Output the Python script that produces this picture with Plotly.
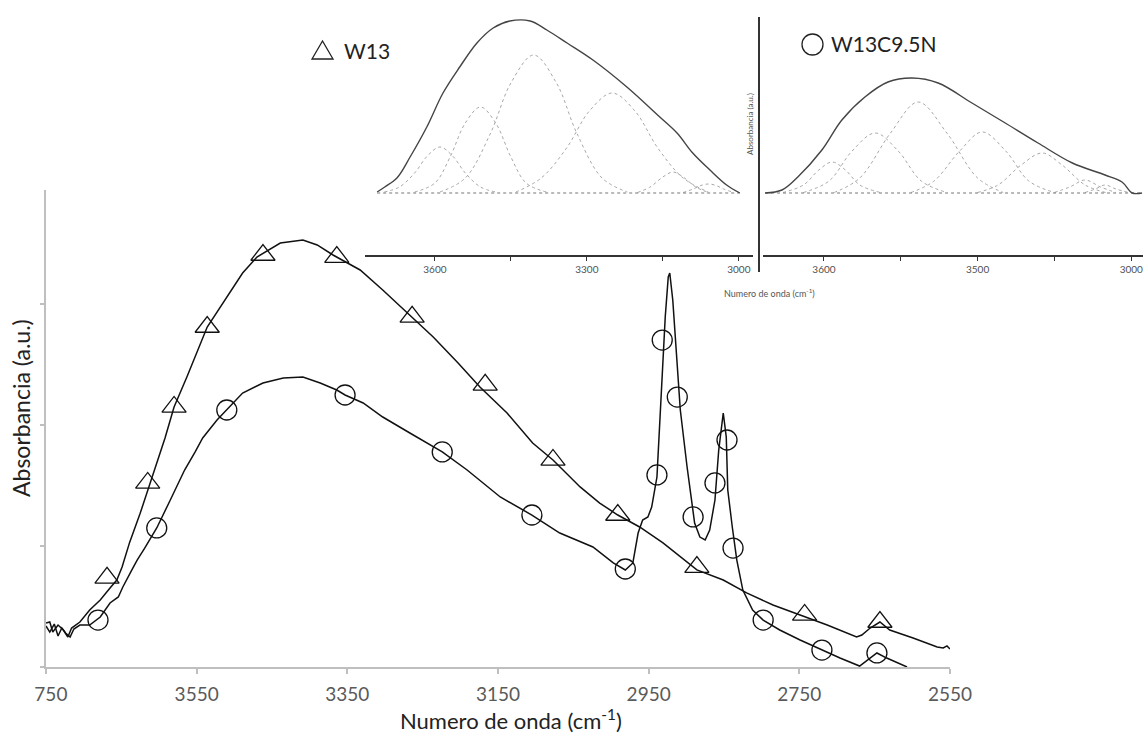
import plotly.graph_objects as go

W, H = 1143, 737

# ---------------- main spectra (wavenumber cm-1, absorbance a.u.) ----------------
w13_wn = [3750, 3745, 3741, 3734, 3727, 3721, 3716, 3705, 3692, 3678, 3665, 3656, 3649,
          3639, 3625, 3612, 3601, 3592, 3580, 3563, 3536, 3510, 3489, 3470, 3439, 3409,
          3390, 3369, 3333, 3303, 3264, 3236, 3203, 3174, 3138, 3104, 3077, 3041, 3015,
          2991, 2962, 2931, 2886, 2851, 2820, 2785, 2749, 2713, 2674, 2667, 2656, 2643,
          2630, 2599, 2567, 2559, 2554, 2550]
w13_abs = [0.364, 0.372, 0.289, 0.347, 0.306, 0.248, 0.322, 0.372, 0.471, 0.554, 0.653,
           0.719, 0.826, 1.03, 1.27, 1.52, 1.72, 1.893, 2.149, 2.397, 2.810, 3.058, 3.256,
           3.388, 3.504, 3.529, 3.488, 3.405, 3.281, 3.116, 2.893, 2.727, 2.512, 2.314,
           2.099, 1.851, 1.711, 1.488, 1.355, 1.256, 1.157, 1.025, 0.802, 0.719, 0.612,
           0.512, 0.430, 0.347, 0.248, 0.264, 0.322, 0.372, 0.306, 0.240, 0.165, 0.157,
           0.174, 0.149]

w13c_wn = [3750, 3745, 3739, 3734, 3729, 3724, 3718, 3713, 3705, 3692, 3678, 3665, 3654,
           3648, 3636, 3629, 3619, 3603, 3585, 3566, 3552, 3542, 3523, 3510, 3489, 3462,
           3435, 3409, 3386, 3364, 3353, 3329, 3303, 3267, 3224, 3191, 3147, 3105, 3068,
           3024, 2997, 2981, 2971, 2964, 2958, 2951, 2946, 2939, 2932, 2928, 2924, 2922,
           2918, 2912, 2908, 2899, 2889, 2882, 2875, 2869, 2862, 2857, 2851, 2847, 2845,
           2839, 2833, 2825, 2812, 2798, 2776, 2749, 2720, 2696, 2670, 2660, 2652, 2647,
           2634, 2620, 2607]
w13c_abs = [0.339, 0.289, 0.355, 0.256, 0.322, 0.281, 0.248, 0.314, 0.347, 0.347, 0.413,
            0.529, 0.579, 0.661, 0.802, 0.884, 0.983, 1.149, 1.380, 1.628, 1.777, 1.893,
            2.041, 2.124, 2.264, 2.347, 2.388, 2.397, 2.347, 2.289, 2.248, 2.182, 2.066,
            1.934, 1.777, 1.628, 1.405, 1.256, 1.107, 0.992, 0.860, 0.802, 0.860, 1.107,
            1.215, 1.240, 1.322, 1.570, 2.347, 2.893, 3.223, 3.256, 3.033, 2.479, 2.124,
            1.653, 1.190, 1.074, 1.050, 1.132, 1.380, 1.793, 2.099, 1.901, 1.463, 1.157,
            0.884, 0.636, 0.471, 0.388, 0.306, 0.223, 0.140, 0.074, 0.008, 0.058, 0.091,
            0.116, 0.074, 0.033, 0.000]

# marker positions
w13_mk_wn = [3669, 3615, 3580, 3536, 3462, 3364, 3264, 3167, 3077, 2991, 2886, 2743, 2643]
w13_mk_abs = [0.736, 1.521, 2.149, 2.810, 3.405, 3.388, 2.893, 2.331, 1.711, 1.256, 0.826,
              0.430, 0.372]
w13c_mk_wn = [3681, 3603, 3510, 3353, 3224, 3105, 2981, 2939, 2932, 2912, 2891, 2862, 2846,
              2838, 2798, 2720, 2647]
w13c_mk_abs = [0.388, 1.149, 2.124, 2.248, 1.777, 1.256, 0.810, 1.587, 2.702, 2.231, 1.240,
               1.521, 1.876, 0.983, 0.388, 0.140, 0.116]

main_ticks = [3750, 3550, 3350, 3150, 2950, 2750, 2550]
main_ticktext = ["\u00a0\u00a0750", "3550", "3350", "3150", "2950", "2750", "2550"]
y_ticks = [0, 1, 2, 3]

# ---------------- inset 1 : W13 deconvolution ----------------
in1_env_wn = [3714, 3699, 3675, 3649, 3616, 3584, 3551, 3517, 3485, 3452, 3412, 3379, 3339,
              3288, 3221, 3156, 3122, 3091, 3057, 3024, 2998]
in1_env_y = [0.1, 0.6, 1.5, 3.6, 6.6, 10.0, 12.6, 15.0, 16.5, 17.2, 17.2, 16.3, 15.0, 13.3,
             10.6, 7.6, 6.0, 4.0, 2.3, 0.8, 0.0]
in1_comps = [
    ([3700, 3670, 3640, 3615, 3590, 3565, 3540, 3510, 3480], [0.1, 0.6, 2.0, 3.7, 4.6, 3.7, 2.0, 0.6, 0.1]),
    ([3640, 3600, 3570, 3540, 3510, 3480, 3450, 3420, 3380], [0.1, 1.0, 3.6, 7.0, 8.6, 7.0, 3.6, 1.0, 0.1]),
    ([3590, 3540, 3490, 3450, 3405, 3360, 3320, 3270, 3220], [0.1, 1.5, 6.0, 11.0, 13.8, 11.0, 6.0, 1.5, 0.1]),
    ([3440, 3390, 3340, 3295, 3250, 3205, 3160, 3110, 3060], [0.1, 1.5, 4.5, 8.2, 10.0, 8.2, 4.5, 1.5, 0.1]),
    ([3200, 3175, 3150, 3130, 3110, 3085, 3060], [0.05, 0.6, 1.6, 2.1, 1.6, 0.6, 0.05]),
    ([3110, 3090, 3075, 3060, 3045, 3030, 3010], [0.05, 0.4, 0.75, 0.9, 0.75, 0.4, 0.05]),
]

# ---------------- inset 2 : W13C9.5N deconvolution ----------------
in2_env_wn = [3715, 3682, 3651, 3604, 3565, 3520, 3475, 3428, 3377, 3311, 3246, 3182, 3115,
              3051, 3018, 2998, 2979]
in2_env_y = [0.0, 0.3, 1.6, 4.3, 7.3, 9.6, 11.1, 11.5, 11.0, 9.0, 7.0, 5.0, 3.0, 1.8, 1.1,
             0.0, 0.0]
in2_comps = [
    ([3680, 3640, 3610, 3584, 3558, 3530, 3490], [0.05, 0.8, 2.3, 3.1, 2.3, 0.8, 0.05]),
    ([3640, 3590, 3545, 3500, 3455, 3410, 3360], [0.05, 1.2, 4.2, 6.0, 4.2, 1.2, 0.05]),
    ([3580, 3530, 3470, 3416, 3360, 3300, 3250], [0.05, 1.5, 6.0, 9.1, 6.0, 1.5, 0.05]),
    ([3430, 3385, 3335, 3291, 3245, 3200, 3150], [0.05, 1.2, 4.2, 6.1, 4.2, 1.2, 0.05]),
    ([3300, 3260, 3215, 3174, 3135, 3090, 3050], [0.05, 0.8, 2.8, 4.0, 2.8, 0.8, 0.05]),
    ([3150, 3120, 3090, 3060, 3030], [0.05, 0.6, 1.3, 0.6, 0.05]),
    ([3090, 3070, 3051, 3030, 3005], [0.05, 0.4, 0.8, 0.4, 0.05]),
]
inset_major = [3600, 3300, 3000]
inset_minor = [3450, 3150]
in1_ticktext = ["3600", "3300", "3000"]
in2_ticktext = ["3600", "3500", "3000"]

FONT = "Lato, 'Open Sans', sans-serif"
AXGRAY = "#bfbfbf"

fig = go.Figure()

# main curves
fig.add_trace(go.Scatter(x=w13_wn, y=w13_abs, mode="lines", line=dict(color="#111", width=1.5),
                         xaxis="x", yaxis="y", showlegend=False))
fig.add_trace(go.Scatter(x=w13c_wn, y=w13c_abs, mode="lines", line=dict(color="#111", width=1.5),
                         xaxis="x", yaxis="y", showlegend=False))
fig.add_trace(go.Scatter(x=w13_mk_wn, y=w13_mk_abs, mode="markers",
                         marker=dict(symbol="triangle-up-open", size=21, color="#111",
                                     line=dict(width=1.3, color="#111")),
                         xaxis="x", yaxis="y", showlegend=False))
fig.add_trace(go.Scatter(x=w13c_mk_wn, y=w13c_mk_abs, mode="markers",
                         marker=dict(symbol="circle-open", size=20, color="#111",
                                     line=dict(width=1.3, color="#111")),
                         xaxis="x", yaxis="y", showlegend=False))

# inset traces
for xs, ys in in1_comps:
    fig.add_trace(go.Scatter(x=xs, y=ys, mode="lines", line=dict(color="#a8a8a8", width=1, dash="dot", shape="spline"),
                             xaxis="x2", yaxis="y2", showlegend=False))
fig.add_trace(go.Scatter(x=[in1_env_wn[0], in1_env_wn[-1]], y=[0, 0], mode="lines",
                         line=dict(color="#777", width=1.2, dash="dot"), xaxis="x2", yaxis="y2", showlegend=False))
fig.add_trace(go.Scatter(x=in1_env_wn, y=in1_env_y, mode="lines", line=dict(color="#444", width=1.4, shape="spline"),
                         xaxis="x2", yaxis="y2", showlegend=False))

for xs, ys in in2_comps:
    fig.add_trace(go.Scatter(x=xs, y=ys, mode="lines", line=dict(color="#a8a8a8", width=1, dash="dot", shape="spline"),
                             xaxis="x3", yaxis="y3", showlegend=False))
fig.add_trace(go.Scatter(x=[in2_env_wn[0], in2_env_wn[-1]], y=[0, 0], mode="lines",
                         line=dict(color="#777", width=1.2, dash="dot"), xaxis="x3", yaxis="y3", showlegend=False))
fig.add_trace(go.Scatter(x=in2_env_wn, y=in2_env_y, mode="lines", line=dict(color="#444", width=1.4, shape="spline"),
                         xaxis="x3", yaxis="y3", showlegend=False))


def px(x):
    return x / W


def py(y):
    return 1 - y / H


inset_x_common = dict(showgrid=False, zeroline=False, automargin=False, ticklabeloverflow="allow",
                      showline=True, linecolor="#333", linewidth=1.5, ticks="outside", ticklen=4,
                      tickcolor="#333", tickfont=dict(size=10, color="#505050"), tickmode="array",
                      minor=dict(tickmode="array", tickvals=inset_minor, ticks="outside", ticklen=4,
                                 tickcolor="#333", showgrid=False))

fig.update_layout(
    template="none",
    width=W, height=H, margin=dict(l=0, r=0, t=0, b=0, pad=0), autosize=False,
    paper_bgcolor="white", plot_bgcolor="rgba(0,0,0,0)",
    font=dict(family=FONT, color="#404040"),
    xaxis=dict(domain=[px(46), px(950)], range=[3750, 2550], anchor="y", automargin=False,
               ticklabeloverflow="allow", ticklabelstandoff=4,
               tickmode="array", tickvals=main_ticks, ticktext=main_ticktext, showgrid=False, zeroline=False,
               showline=True, linecolor=AXGRAY, linewidth=2, ticks="outside", ticklen=5,
               tickcolor=AXGRAY, tickwidth=1.5, tickfont=dict(size=19, color="#5a5a5a")),
    yaxis=dict(domain=[py(667), py(190)], range=[0, 3.942], anchor="x", automargin=False,
               tickmode="array", tickvals=[], showticklabels=False, showgrid=False, zeroline=False,
               showline=True, linecolor=AXGRAY, linewidth=2, ticks="",
               minor=dict(tickmode="array", tickvals=y_ticks, ticks="outside", ticklen=4,
                          tickcolor=AXGRAY, tickwidth=1.5, showgrid=False)),
    xaxis2=dict(domain=[px(365), px(753)], range=[3738, 2972], anchor="y2",
                tickvals=inset_major, ticktext=in1_ticktext, **inset_x_common),
    yaxis2=dict(domain=[py(255), py(15)], range=[-6.2, 17.8], anchor="x2", visible=False, automargin=False),
    xaxis3=dict(domain=[px(763), 1.0], range=[3719, 2977], anchor="y3",
                tickvals=inset_major, ticktext=in2_ticktext, **inset_x_common),
    yaxis3=dict(domain=[py(255), py(15)], range=[-6.2, 17.8], anchor="x3", visible=False, automargin=False),
    shapes=[
        dict(type="line", xref="paper", yref="paper", x0=px(759), x1=px(759), y0=py(17), y1=py(272),
             line=dict(color="#333", width=2)),
        dict(type="path", xref="paper", yref="paper",
             path=f"M {px(312)} {py(59)} L {px(333)} {py(59)} L {px(322.5)} {py(41)} Z",
             line=dict(color="#222", width=1.3)),
        dict(type="circle", xref="paper", yref="paper", x0=px(802), x1=px(823), y0=py(55), y1=py(34),
             line=dict(color="#222", width=1.3)),
    ],
    annotations=[
        dict(text="Numero de onda (cm<sup>-1</sup>)", x=px(511), y=py(719), xref="paper", yref="paper",
             showarrow=False, font=dict(size=22, color="#222"), xanchor="center", yanchor="middle"),
        dict(text="Absorbancia (a.u.)", x=px(21), y=py(408), xref="paper", yref="paper", textangle=-90,
             showarrow=False, font=dict(size=23, color="#222"), xanchor="center", yanchor="middle"),
        dict(text="W13", x=px(342), y=py(50), xref="paper", yref="paper", showarrow=False,
             font=dict(size=21, color="#222"), xanchor="left", yanchor="middle"),
        dict(text="W13C9.5N", x=px(829), y=py(44), xref="paper", yref="paper", showarrow=False,
             font=dict(size=21, color="#222"), xanchor="left", yanchor="middle"),
        dict(text="Absorbancia (a.u.)", x=px(750), y=py(124), xref="paper", yref="paper", textangle=-90,
             showarrow=False, font=dict(size=8, color="#555"), xanchor="center", yanchor="middle"),
        dict(text="Numero de onda (cm<sup>-1</sup>)", x=px(722), y=py(293), xref="paper", yref="paper",
             showarrow=False, font=dict(size=9, color="#555"), xanchor="left", yanchor="middle"),
    ],
)

fig.write_html("out.html", config={"displayModeBar": False},
               post_script="document.body.style.margin='0';document.body.style.padding='0';")
